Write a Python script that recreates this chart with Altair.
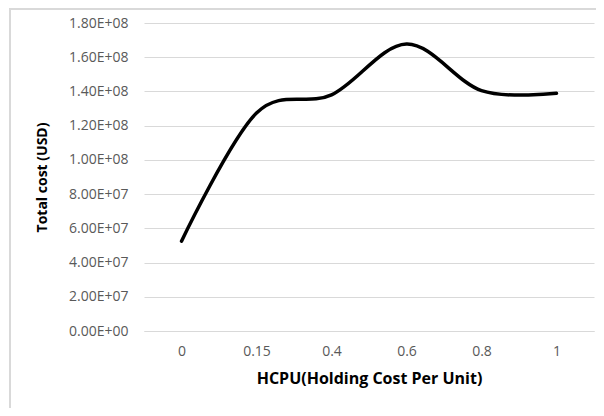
import altair as alt
import pandas as pd

hcpu = ["0", "0.15", "0.4", "0.6", "0.8", "1"]
total_cost = [5.25e7, 1.274e8, 1.38e8, 1.677e8, 1.405e8, 1.389e8]

df = pd.DataFrame({"HCPU": hcpu, "cost": total_cost})

FONT = "Open Sans"

line = alt.Chart(df).mark_line(
    color="black", strokeWidth=3.5, interpolate="cardinal", strokeCap="round"
).encode(
    x=alt.X("HCPU:O", sort=hcpu, scale=alt.Scale(padding=0.5),
            axis=alt.Axis(title="HCPU(Holding Cost Per Unit)", labelAngle=0,
                          ticks=False, domainColor="#d9d9d9", domainWidth=1,
                          labelPadding=13, labelFontSize=14, labelColor="#595959",
                          titleFontSize=16, titleFontWeight="bold", titleColor="#000000",
                          titlePadding=12, grid=False)),
    y=alt.Y("cost:Q", scale=alt.Scale(domain=[0, 1.8e8], nice=False),
            axis=alt.Axis(title="Total cost (USD)",
                          values=[i * 2e7 for i in range(10)],
                          labelExpr="replace(format(datum.value, '.2e'), 'e+', 'E+0')",
                          ticks=False, domain=False, gridColor="#d9d9d9", gridWidth=1,
                          labelPadding=16, labelFontSize=14, labelColor="#595959",
                          titleFontSize=14, titleFontWeight="bold", titleColor="#000000",
                          titleX=-95, titleY=154, titleAnchor="middle")),
)

border = alt.Chart(df).mark_rect(
    fill=None, stroke="#d9d9d9", strokeWidth=1.5
).encode(
    x=alt.value(-134), x2=alt.value(470), y=alt.value(-14), y2=alt.value(420)
)

chart = alt.layer(border, line).properties(
    width=450, height=308,
    autosize=alt.AutoSizeParams(type="none"),
    padding={"left": 136, "top": 15, "right": 2, "bottom": 77},
).configure(font=FONT).configure_view(stroke=None)

chart.save("out.html", embed_options={"renderer": "svg", "actions": False})
